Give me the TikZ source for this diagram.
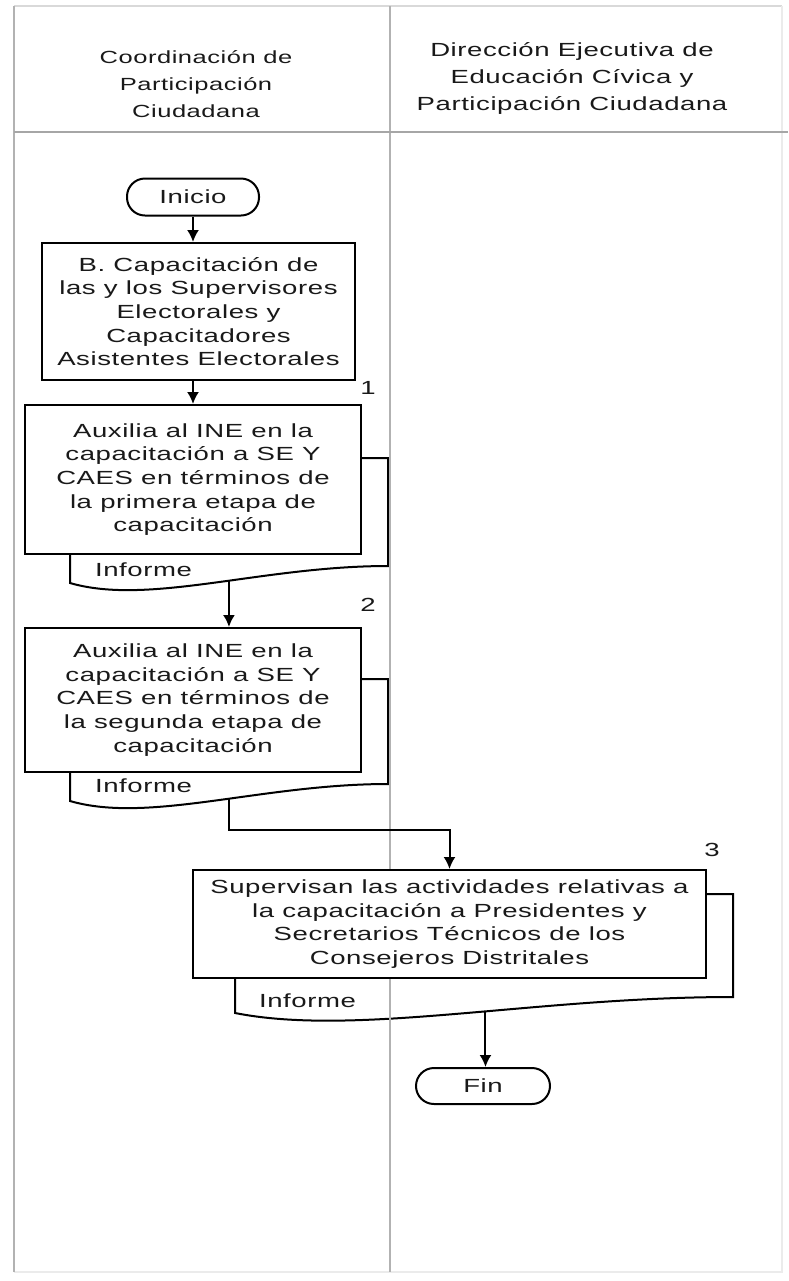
\documentclass[tikz,border=0pt]{standalone}
\usepackage{fontspec}
\setmainfont{Liberation Sans}[FakeStretch=1.45,LetterSpace=3]
\usetikzlibrary{arrows.meta,positioning,calc,backgrounds}

\begin{document}
\begin{tikzpicture}[
    x=0.5pt, y=-0.5pt,
    font=\fontsize{9.5}{11.8}\selectfont,
    text=black!90,
    lane/.style={draw=black!30, line width=1pt},
    term/.style={draw, line width=1pt, rounded corners=9pt, minimum width=66pt, minimum height=18.5pt, inner sep=0pt},
    proc/.style={draw, line width=1pt, fill=white, align=center, inner sep=2pt},
    doc/.style={draw, line width=1pt, fill=white},
    arr/.style={-{Latex[length=6pt,width=6pt]}, line width=1pt}
]
\useasboundingbox (0,0) rectangle (788,1281);

% swimlanes
\draw[lane, draw=black!15] (14,6) -- (782,6);
\draw[lane, draw=black!8] (782,6) -- (782,1272) -- (14,1272);
\draw[lane] (14,6) -- (14,1272);
\draw[lane] (390,6) -- (390,1272);
\draw[lane, draw=black!35] (14,132) -- (788,132);

\node[align=center, font=\fontsize{8.8}{13.5}\selectfont] (lane1) at (196,84) {Coordinación de\\Participación\\Ciudadana};
\node[align=center, font=\fontsize{9.5}{13.5}\selectfont] (lane2) at (572,78) {Dirección Ejecutiva de\\Educación Cívica y\\Participación Ciudadana};

% steps
\node[term] (inicio) at (193,197) {Inicio};
\node[proc, minimum width=156.5pt, minimum height=68.5pt] (capac) at (198.5,311.5) {B. Capacitación de\\las y los Supervisores\\Electorales y\\Capacitadores\\Asistentes Electorales};
\node[proc, minimum width=168pt, minimum height=74.5pt] (act1) at (193,479.5) {Auxilia al INE en la\\capacitación a SE Y\\CAES en términos de\\la primera etapa de\\capacitación};
\node[proc, minimum width=168pt, minimum height=72pt] (act2) at (193,700) {Auxilia al INE en la\\capacitación a SE Y\\CAES en términos de\\la segunda etapa de\\capacitación};
\node[proc, minimum width=256.5pt, minimum height=54pt] (act3) at (449.5,924) {Supervisan las actividades relativas a\\la capacitación a Presidentes y\\Secretarios Técnicos de los\\Consejeros Distritales};
\node[term, minimum width=67pt, minimum height=18pt] (fin) at (483,1086) {Fin};

% step numbers
\node (num1) at (368,388) {1};
\node (num2) at (368,605) {2};
\node (num3) at (712,850) {3};

% report sheets behind the steps
\begin{scope}[on background layer]
\draw[doc] ($(act1.north west)+(46,54)$) -- ($(act1.north east)+(26,54)$) -- ($(act1.south east)+(26,11)$)
    .. controls ($(act1.south east)+(-101,11)$) and ($(act1.south west)+(125,51)$) .. ($(act1.south west)+(46,28)$) coordinate[pos=.445] (w1) -- cycle;
\draw[doc] ($(act2.north west)+(46,52)$) -- ($(act2.north east)+(26,52)$) -- ($(act2.south east)+(26,11)$)
    .. controls ($(act2.south east)+(-101,11)$) and ($(act2.south west)+(125,51)$) .. ($(act2.south west)+(46,28)$) coordinate[pos=.445] (w2) -- cycle;
\draw[doc] ($(act3.north west)+(43,25)$) -- ($(act3.north east)+(26,25)$) -- ($(act3.south east)+(26,18)$)
    .. controls ($(act3.south east)+(-174,18)$) and ($(act3.south west)+(165,58)$) .. ($(act3.south west)+(43,34)$) coordinate[pos=.44] (w3) -- cycle;
\end{scope}
\node[anchor=west] (inf1) at ($(act1.south west)+(64,15)$) {Informe};
\node[anchor=west] (inf2) at ($(act2.south west)+(64,13)$) {Informe};
\node[anchor=west] (inf3) at ($(act3.south west)+(60,22)$) {Informe};

% flow
\draw[arr] (inicio) -- (inicio |- capac.north);
\draw[arr] (capac.south -| inicio) -- (act1.north -| inicio);
\draw[arr] (w1) -- (w1 |- act2.north);
\draw[arr] (w2) -- ++(0,31) -| (act3.north);
\draw[arr] (w3) -- (w3 |- fin.north);
\end{tikzpicture}
\end{document}
